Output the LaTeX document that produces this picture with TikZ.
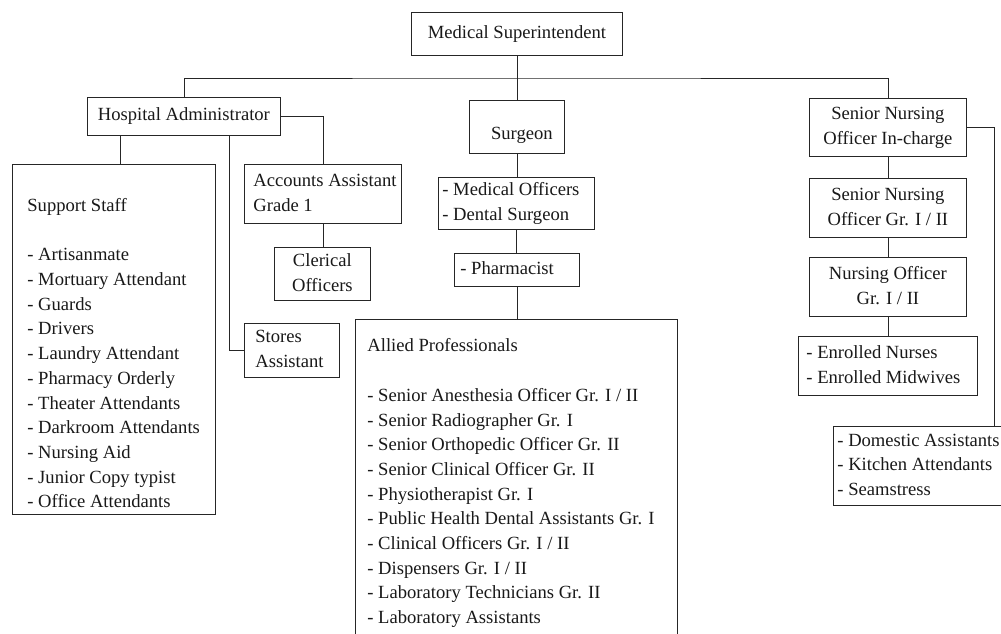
\documentclass[tikz,border=0pt]{standalone}
\usepackage{fontspec}
\setmainfont{Liberation Serif}
\newcommand{\lbox}[3]{\makebox[#1][l]{\hspace{#2}\begin{tabular}{@{}l@{}}#3\end{tabular}}}
\newcommand{\tlbox}[3]{\makebox[#1][l]{\hspace{#2}\begin{tabular}[t]{@{}l@{}}#3\end{tabular}}}
\newcommand{\cbox}[1]{\begin{tabular}{@{}c@{}}#1\end{tabular}}
\tikzset{
  box/.style={draw=black!85, line width=0.8pt, rectangle, inner sep=0pt, anchor=north west,
    font=\fontsize{18.6}{24.7}\selectfont, text=black!90},
  conn/.style={draw=black!85, line width=0.8pt},
}
\begin{document}
\begin{tikzpicture}[x=1pt,y=-1pt]
\useasboundingbox[fill=white] (0,0) rectangle (1001,633);
% top
\node[box, minimum width=211pt, minimum height=43pt] (ms) at (411,12) {Medical Superintendent};
\node[box, minimum width=193pt, minimum height=38pt] (ha) at (87,97) {Hospital Administrator};
\node[box, minimum width=95pt, minimum height=53pt, text height=29pt, text depth=4pt] (surg) at (469,100) {\hspace*{10pt}Surgeon};
\node[box, minimum width=157pt, minimum height=58pt] (sno1) at (809,98) {\cbox{Senior Nursing\\Officer In-charge}};
% admin branch
\node[box, minimum width=203pt, minimum height=350pt, text height=30pt, text depth=286pt] (ss) at (12,164)
  {\tlbox{203pt}{15pt}{Support Staff\\ \\- Artisanmate\\- Mortuary Attendant\\- Guards\\- Drivers\\- Laundry Attendant\\- Pharmacy Orderly\\- Theater Attendants\\- Darkroom Attendants\\- Nursing Aid\\- Junior Copy typist\\- Office Attendants}};
\node[box, minimum width=157pt, minimum height=59pt] (acc) at (244,164) {\lbox{157pt}{9pt}{Accounts Assistant\\Grade 1}};
\node[box, minimum width=96pt, minimum height=53pt] (cler) at (274,247) {\cbox{Clerical\\Officers}};
\node[box, minimum width=95pt, minimum height=54pt] (st) at (244,323) {\lbox{95pt}{11pt}{Stores\\Assistant}};
% surgeon branch
\node[box, minimum width=156pt, minimum height=52pt] (mo) at (438,177) {\lbox{156pt}{4pt}{- Medical Officers\\- Dental Surgeon}};
\node[box, minimum width=125pt, minimum height=33pt] (ph) at (454,253) {\lbox{125pt}{6pt}{- Pharmacist}};
\node[box, minimum width=322pt, minimum height=340pt, text height=25pt, text depth=300pt] (al) at (355,319)
  {\tlbox{322pt}{12pt}{Allied Professionals\\ \\- Senior Anesthesia Officer Gr. I / II\\- Senior Radiographer Gr. I\\- Senior Orthopedic Officer Gr. II\\- Senior Clinical Officer Gr. II\\- Physiotherapist Gr. I\\- Public Health Dental Assistants Gr. I\\- Clinical Officers Gr. I / II\\- Dispensers Gr. I / II\\- Laboratory Technicians Gr. II\\- Laboratory Assistants}};
% nursing branch
\node[box, minimum width=157pt, minimum height=59pt] (sno2) at (809,178) {\cbox{Senior Nursing\\Officer Gr. I / II}};
\node[box, minimum width=157pt, minimum height=59pt] (sno3) at (809,257) {\cbox{Nursing Officer\\Gr. I / II}};
\node[box, minimum width=179pt, minimum height=59pt] (en) at (798,336) {\lbox{179pt}{8pt}{- Enrolled Nurses\\- Enrolled Midwives}};
\node[box, minimum width=182pt, minimum height=79pt] (dom) at (833,426) {\lbox{182pt}{4pt}{- Domestic Assistants\\- Kitchen Attendants\\- Seamstress}};
% connectors
\coordinate (bus) at (517,78);
\draw[conn] (ms.south) -- (ms.south |- surg.north);
\draw[conn] (ha.north) |- (bus) -| (sno1.north);
\draw[conn] (ha.east) -| (acc.north);
\draw[conn] (acc.south) -- (acc.south |- cler.north);
\draw[conn] ([xshift=-63.5pt]ha.south) -- ([xshift=6.5pt]ss.north);
\draw[conn] ([xshift=45.5pt]ha.south) |- (st.west);
\draw[conn] (surg.south) -- (surg.south |- mo.north);
\draw[conn] (mo.south) -- (mo.south |- ph.north);
\draw[conn] (ph.south) -- (ph.south |- al.north);
\draw[conn] (sno1.east) -| ([xshift=-21pt]dom.north east);
\draw[conn] (sno1.south) -- (sno2.north);
\draw[conn] (sno2.south) -- (sno3.north);
\draw[conn] (sno3.south) -- (sno3.south |- en.north);
\end{tikzpicture}
\end{document}
